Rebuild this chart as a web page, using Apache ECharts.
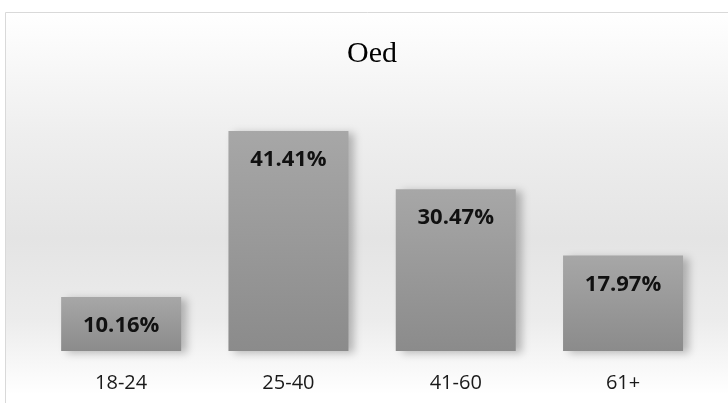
<!DOCTYPE html>
<html><head><meta charset="utf-8">
<script src="https://cdn.jsdelivr.net/npm/echarts@6/dist/echarts.min.js"></script>
<style>html,body{margin:0;padding:0;background:#fff}#c{width:728px;height:403px}</style>
</head><body><div id="c"></div>
<script>
const title = "Oed";
const categories = ["18-24", "25-40", "41-60", "61+"];
const values = [10.16, 41.41, 30.47, 17.97];

const chart = echarts.init(document.getElementById('c'));
chart.setOption({
  animation: false,
  graphic: [{
    type: 'rect', left: 5, top: 12, z: -10,
    shape: {width: 740, height: 410},
    style: {
      fill: new echarts.graphic.LinearGradient(0, 0, 0, 1, [
        {offset: 0, color: '#ffffff'},
        {offset: 0.3, color: '#eeeeee'},
        {offset: 0.55, color: '#e4e4e4'},
        {offset: 0.75, color: '#ececec'},
        {offset: 0.93, color: '#ffffff'},
        {offset: 1, color: '#ffffff'}
      ]),
      stroke: '#d9d9d9', lineWidth: 1
    }
  }],
  title: {
    text: title, left: 342, top: 34,
    textStyle: {fontFamily: 'Liberation Serif', fontWeight: 'normal', fontSize: 30, color: '#000'}
  },
  grid: {left: 37.5, right: 21.3, top: 85.5, bottom: 52},
  xAxis: {
    type: 'category', data: categories,
    axisLine: {show: false}, axisTick: {show: false},
    axisLabel: {margin: 22, fontFamily: 'Open Sans', fontSize: 20, color: '#1a1a1a'}
  },
  yAxis: {type: 'value', min: 0, max: 50, show: false, splitLine: {show: false}},
  series: [{
    type: 'bar', data: values, barWidth: 120,
    itemStyle: {
      color: new echarts.graphic.LinearGradient(0, 0, 0, 1, [
        {offset: 0, color: '#a7a7a7'},
        {offset: 1, color: '#8b8b8b'}
      ]),
      shadowColor: 'rgba(0,0,0,0.25)', shadowBlur: 8, shadowOffsetX: 6, shadowOffsetY: 2
    },
    label: {
      show: true, position: 'insideTop', distance: 18,
      formatter: p => p.value.toFixed(2) + '%',
      fontFamily: 'Open Sans', fontWeight: 'bold', fontSize: 22, color: '#111'
    }
  }]
});
</script></body></html>
